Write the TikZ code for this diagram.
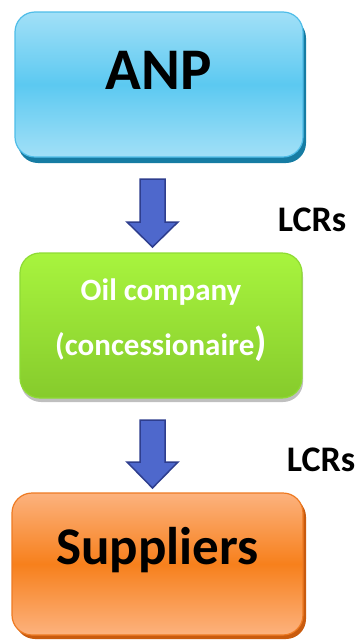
\documentclass[tikz,border=0pt]{standalone}
\usepackage{fontspec}
\setmainfont{Carlito}
\usetikzlibrary{shadows,calc}
\definecolor{bluelight}{HTML}{A2E0F7}
\definecolor{bluemid}{HTML}{5CC9F1}
\definecolor{blueedge}{HTML}{4FBDE8}
\definecolor{blueshadow}{HTML}{167CA3}
\definecolor{greenlight}{HTML}{A8F43E}
\definecolor{greendark}{HTML}{86CB2C}
\definecolor{greenedge}{HTML}{8EDB34}
\definecolor{orangelight}{HTML}{FCB27E}
\definecolor{orangemid}{HTML}{F7801C}
\definecolor{orangeedge}{HTML}{EE7A22}
\definecolor{orangeshadow}{HTML}{C95B0E}
\definecolor{arrowfill}{HTML}{4E68CC}
\definecolor{arrowedge}{HTML}{2E3E8E}
\tikzset{
  boxbase/.style={rounded corners=20pt, line width=1.2pt, inner sep=0pt},
  arrowshape/.style={fill=arrowfill, draw=arrowedge, line width=1.5pt, line join=miter},
  lcr/.style={font=\bfseries\fontsize{36}{36}\selectfont, inner sep=0pt},
}
\begin{document}
\begin{tikzpicture}[x=1pt,y=-1pt]
\useasboundingbox (0,0) rectangle (358,640);
% ANP
\node (anp) [boxbase, minimum width=288pt, minimum height=145pt, draw=blueedge,
  top color=bluelight, bottom color=bluelight, middle color=bluemid,
  drop shadow={shadow xshift=3pt, shadow yshift=-6pt, fill=blueshadow, opacity=1}]
  at (159,84.5) {};
\node (anpt) [font=\bfseries\fontsize{59}{59}\selectfont, inner sep=0pt] at ([yshift=14pt]anp.center) {ANP};
% Oil company
\node (oil) [boxbase, minimum width=282pt, minimum height=145pt, draw=greenedge,
  top color=greenlight, bottom color=greendark,
  drop shadow={shadow xshift=1pt, shadow yshift=-4pt, fill=black, opacity=0.25}]
  at (161,325.5) {};
\node (oilt) [font=\bfseries\fontsize{31}{55}\selectfont, text=white, align=center, inner sep=0pt]
  at ([yshift=5pt]oil.center) {Oil company\\(concessionaire{\fontsize{40}{40}\selectfont)}};
% Suppliers
\node (sup) [boxbase, minimum width=291pt, minimum height=142pt, draw=orangeedge,
  top color=orangelight, bottom color=orangelight, middle color=orangemid,
  drop shadow={shadow xshift=3pt, shadow yshift=-4pt, fill=orangeshadow, opacity=1}]
  at (157.5,564) {};
\node (supt) [font=\bfseries\fontsize{53}{53}\selectfont, inner sep=0pt] at ([yshift=14pt]sup.center) {Suppliers};
% Arrows
\draw[arrowshape] (140,179) -- (165,179) -- (165,222) -- (178,222) -- (152.5,247) -- (127,222) -- (140,222) -- cycle;
\draw[arrowshape] (140,420) -- (165,420) -- (165,462) -- (178,462) -- (152.5,488) -- (127,462) -- (140,462) -- cycle;
% Labels
\node (l1) [lcr] at (312,220) {LCRs};
\node (l2) [lcr] at (321,460) {LCRs};
\end{tikzpicture}
\end{document}
